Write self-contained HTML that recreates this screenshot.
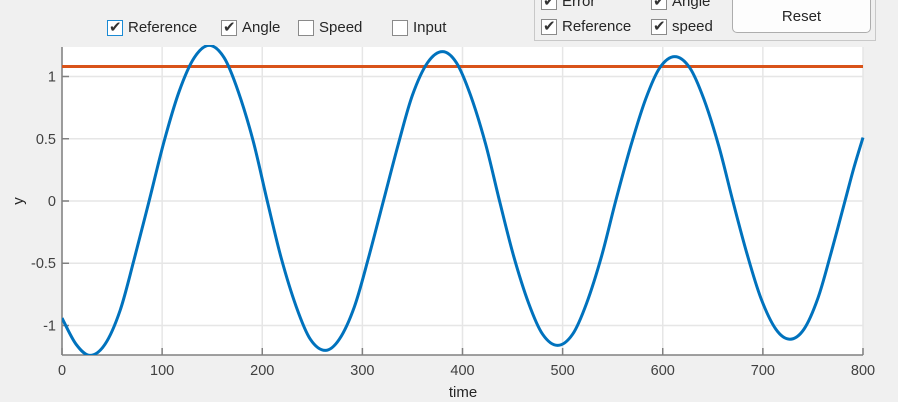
<!DOCTYPE html>
<html><head><meta charset="utf-8"><style>
body{margin:0;width:898px;height:402px;background:#f0f0f0;overflow:hidden;font-family:"Liberation Sans",Arial,sans-serif;position:relative}
.cb{position:absolute;display:flex;align-items:center;font-size:15px;color:#262626}
.box{width:16px;height:16px;border:1px solid #8a8a8a;background:#fff;margin-right:5px;position:relative;box-sizing:border-box}
.box.on::after{content:"✔";position:absolute;left:1px;top:-3px;font-size:15px;color:#333}
</style></head><body>
<div class="cb" style="left:107px;top:19px"><div class="box on" style="border-color:#1a8ad4"></div>Reference</div>
<div class="cb" style="left:221px;top:19px"><div class="box on"></div>Angle</div>
<div class="cb" style="left:298px;top:19px"><div class="box"></div>Speed</div>
<div class="cb" style="left:392px;top:19px"><div class="box"></div>Input</div>
<div style="position:absolute;left:534px;top:-10px;width:342px;height:51px;border:1px solid #c8c8c8;box-sizing:border-box">
<div class="cb" style="left:6px;top:2px"><div class="box on"></div>Error</div>
<div class="cb" style="left:116px;top:2px"><div class="box on"></div>Angle</div>
<div class="cb" style="left:6px;top:27px"><div class="box on"></div>Reference</div>
<div class="cb" style="left:116px;top:27px"><div class="box on"></div>speed</div>
<div style="position:absolute;left:197px;top:0;width:139px;height:42px;border:1px solid #adadad;border-radius:5px;background:#fdfdfd;box-sizing:border-box;font-size:15px;color:#262626;text-align:center;line-height:50px">Reset</div>
</div>
<svg id="chart" width="898" height="402" style="position:absolute;left:0;top:0"></svg>
<script>
const xTicks=[0,100,200,300,400,500,600,700,800];
const yTicks=[-1,-0.5,0,0.5,1];
const yTickLabels=["-1","-0.5","0","0.5","1"];
const referenceValue=1.08;
const timeValues=[0,14,28,43,58,72,87,102,117,132,147,162,176,191,205,219,234,248,263,277,292,306,321,336,350,365,380,394,408,423,437,451,466,480,495,510,524,539,553,568,583,597,612,627,641,656,670,684,698,713,727,741,755,768,782,791,800];
const angleValues=[-0.94,-1.15,-1.24,-1.15,-0.88,-0.47,0,0.48,0.88,1.15,1.25,1.15,0.88,0.48,0,-0.46,-0.85,-1.11,-1.20,-1.11,-0.85,-0.46,0,0.46,0.85,1.11,1.20,1.11,0.85,0.46,0,-0.44,-0.82,-1.07,-1.16,-1.07,-0.82,-0.44,0,0.44,0.82,1.07,1.16,1.07,0.82,0.44,0,-0.42,-0.78,-1.03,-1.11,-1.03,-0.78,-0.42,0,0.27,0.51];
const X0=62,X1=863,Y0=47,Y1=355,xmin=0,xmax=800,ymin=-1.237,ymax=1.237;
const sx=v=>X0+(v-xmin)/(xmax-xmin)*(X1-X0);
const sy=v=>Y1-(v-ymin)/(ymax-ymin)*(Y1-Y0);
const svg=document.getElementById('chart');const NS='http://www.w3.org/2000/svg';
function mk(t,a,p){const e=document.createElementNS(NS,t);for(const k in a)e.setAttribute(k,a[k]);(p||svg).appendChild(e);return e;}
const bg=mk('rect',{x:X0,y:Y0,width:X1-X0,height:Y1-Y0,fill:'#fff'});


const defs=mk('defs',{});const cp=mk('clipPath',{id:'c'},defs);mk('rect',{x:X0,y:Y0-2,width:X1-X0+2,height:Y1-Y0+2},cp);
xTicks.forEach(t=>{const g=mk('line',{x1:sx(t),x2:sx(t),y1:Y0,y2:Y1,stroke:'#e6e6e6','stroke-width':1.5});


mk('line',{x1:sx(t),x2:sx(t),y1:Y1,y2:Y1-7,stroke:'#808080','stroke-width':1.5});
const l=mk('text',{x:sx(t),y:Y1+20,'text-anchor':'middle','font-size':14.5,fill:'#404040'});l.textContent=t;

});
yTicks.forEach((t,i)=>{const g=mk('line',{x1:X0,x2:X1,y1:sy(t),y2:sy(t),stroke:'#e6e6e6','stroke-width':1.5});


mk('line',{x1:X0,x2:X0+7,y1:sy(t),y2:sy(t),stroke:'#808080','stroke-width':1.5});
const l=mk('text',{x:X0-6,y:sy(t)+5,'text-anchor':'end','font-size':14.5,fill:'#404040'});l.textContent=yTickLabels[i];

});
mk('line',{x1:X0,x2:X0,y1:Y0,y2:Y1,stroke:'#808080','stroke-width':1.5});
mk('line',{x1:X0,x2:X1,y1:Y1,y2:Y1,stroke:'#808080','stroke-width':1.5});
const rl=mk('line',{x1:sx(xmin),x2:sx(xmax),y1:sy(referenceValue),y2:sy(referenceValue),stroke:'#D95319','stroke-width':3});


const P=timeValues.map((t,i)=>[sx(t),sy(angleValues[i])]);
let d='M'+P[0][0]+','+P[0][1];
for(let i=0;i<P.length-1;i++){const p0=P[Math.max(i-1,0)],p1=P[i],p2=P[i+1],p3=P[Math.min(i+2,P.length-1)];
d+=' C'+(p1[0]+(p2[0]-p0[0])/6)+','+(p1[1]+(p2[1]-p0[1])/6)+' '+(p2[0]-(p3[0]-p1[0])/6)+','+(p2[1]-(p3[1]-p1[1])/6)+' '+p2[0]+','+p2[1];}
const al=mk('path',{d:d,fill:'none',stroke:'#0072BD','stroke-width':3,'clip-path':'url(#c)'});


const xl=mk('text',{x:463,y:397,'text-anchor':'middle','font-size':15,fill:'#262626'});xl.textContent='time';


const yl=mk('text',{x:23,y:201,'text-anchor':'middle','font-size':15,fill:'#262626',transform:'rotate(-90 23 201)'});yl.textContent='y';


</script>
</body></html>
